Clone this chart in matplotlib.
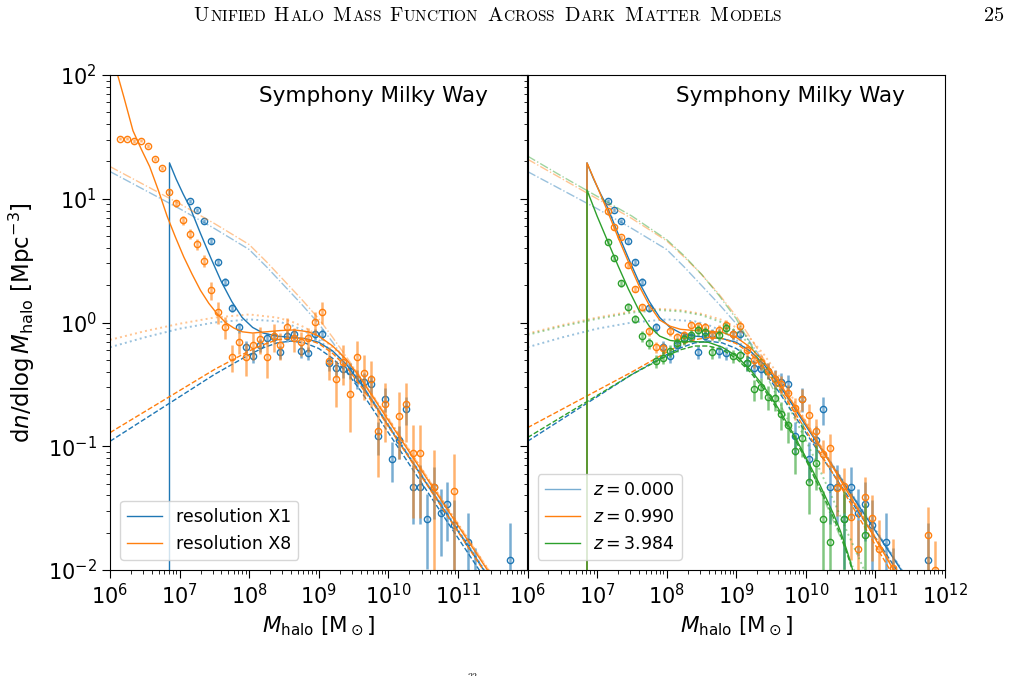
import numpy as np
import matplotlib
matplotlib.use('Agg')
import matplotlib.pyplot as plt
from matplotlib.ticker import LogLocator, NullFormatter, FixedLocator
from matplotlib.lines import Line2D

# ---------------------------------------------------------------
# Data: log10(M_halo / Msun) and log10(dn/dlogM)
# ---------------------------------------------------------------
cut_logm = 6.855          # resolution cut-off of the fits (fit is zero below)
zero_logn = -5.0          # "zero" level of the fit below the cut-off

# ---- resolution X1, z = 0 (blue; also used in right panel) ----
x1_logm = [7.15, 7.25, 7.35, 7.45, 7.55, 7.65, 7.75, 7.85, 7.95, 8.05, 8.15, 8.25, 8.35,
           8.45, 8.55, 8.65, 8.75, 8.85, 8.95, 9.05, 9.15, 9.25, 9.35, 9.45, 9.55, 9.65,
           9.75, 9.85, 9.95, 10.05, 10.15, 10.25, 10.35, 10.45, 10.55, 10.65, 10.75,
           10.85, 10.95, 11.15, 11.25, 11.75]
x1_logn = [0.984, 0.907, 0.82, 0.659, 0.486, 0.327, 0.12, -0.04, -0.20, -0.27, -0.18,
           -0.128, -0.114, -0.24, -0.109, -0.095, -0.23, -0.249, -0.095, -0.095, -0.33,
           -0.37, -0.378, -0.389, -0.454, -0.481, -0.494, -0.915, -0.618, -1.10, -0.95,
           -0.70, -1.33, -1.33, -1.59, -1.327, -1.537, -1.467, -1.64, -1.77, -2.05, -1.92]
x1_err = [0.04, 0.04, 0.04, 0.05, 0.06, 0.07, 0.08, 0.09, 0.12, 0.13, 0.12, 0.10, 0.10,
          0.12, 0.10, 0.10, 0.12, 0.12, 0.10, 0.10, 0.13, 0.15, 0.15, 0.15, 0.17, 0.18,
          0.18, 0.30, 0.22, 0.35, 0.30, 0.25, 0.50, 0.50, 0.60, 0.45, 0.55, 0.50, 0.60,
          0.70, 0.70, 0.98]

x1_tot_logm = [cut_logm, cut_logm, 6.95, 7.05, 7.15, 7.3, 7.45, 7.6, 7.75, 7.9, 8.05, 8.2,
               8.4, 8.6, 8.8, 9.0, 9.2, 9.4, 9.6, 9.8, 10.0, 10.2, 10.4, 10.6, 10.8, 11.0,
               11.2, 11.4]
x1_tot_logn = [zero_logn, 1.29, 1.16, 1.04, 0.93, 0.72, 0.52, 0.33, 0.17, 0.04, -0.04,
               -0.085, -0.11, -0.12, -0.13, -0.16, -0.23, -0.34, -0.49, -0.66, -0.835,
               -1.005, -1.175, -1.345, -1.515, -1.685, -1.855, -2.025]
x1_hump_logm = [6.0, 6.5, 7.0, 7.5, 8.0, 8.2, 8.4, 8.6, 8.8, 9.0, 9.2, 9.4, 9.6, 9.8, 10.0,
                10.2, 10.4, 10.6, 10.8, 11.0, 11.2, 11.4]
x1_hump_logn = [-0.96, -0.78, -0.6, -0.42, -0.26, -0.205, -0.165, -0.15, -0.165, -0.21,
                -0.29, -0.40, -0.55, -0.72, -0.89, -1.06, -1.23, -1.40, -1.57, -1.74,
                -1.91, -2.08]
x1_dot_logm = [6.0, 6.5, 7.0, 7.5, 8.0, 8.4, 8.6, 8.8, 9.0, 9.2, 9.4, 9.6, 9.8, 10.0, 10.4,
               10.8, 11.2, 11.45]
x1_dot_logn = [-0.2, -0.12, -0.05, 0.0, 0.025, 0.01, -0.02, -0.07, -0.14, -0.24, -0.36,
               -0.5, -0.65, -0.825, -1.165, -1.505, -1.845, -2.06]
x1_dd_logm = [6.0, 6.5, 7.0, 7.5, 8.0, 8.25, 8.5, 8.75, 9.0, 9.2, 9.4, 9.6, 9.8, 10.0, 10.4,
              10.8, 11.2, 11.45]
x1_dd_logn = [1.22, 1.07, 0.92, 0.76, 0.59, 0.45, 0.30, 0.15, -0.01, -0.16, -0.32, -0.48,
              -0.65, -0.825, -1.165, -1.505, -1.845, -2.06]

# ---- resolution X8, z = 0 (orange, left panel) ----
x8_logm = [6.15, 6.25, 6.35, 6.45, 6.55, 6.65, 6.75, 6.85, 6.95, 7.05, 7.15, 7.25, 7.35,
           7.45, 7.55, 7.65, 7.75, 7.85, 7.95, 8.05, 8.15, 8.25, 8.35, 8.45, 8.55, 8.65,
           8.75, 8.85, 8.95, 9.05, 9.15, 9.25, 9.35, 9.45, 9.55, 9.65, 9.75, 9.85, 9.95,
           10.15, 10.25, 10.35, 10.45, 10.65, 10.95]
x8_logn = [1.485, 1.485, 1.467, 1.469, 1.426, 1.321, 1.248, 1.057, 0.963, 0.826, 0.715,
           0.634, 0.50, 0.263, 0.087, -0.034, -0.276, -0.155, -0.276, -0.18, -0.133,
           -0.276, -0.109, -0.18, -0.039, -0.128, -0.16, -0.128, 0.002, 0.087, -0.31,
           -0.457, -0.316, -0.58, -0.28, -0.405, -0.457, -0.88, -0.661, -0.755, -0.661,
           -1.057, -1.057, -1.33, -1.36]
x8_err = [0.03, 0.03, 0.03, 0.03, 0.03, 0.03, 0.04, 0.05, 0.06, 0.08, 0.09, 0.10, 0.12,
          0.17, 0.20, 0.20, 0.25, 0.20, 0.30, 0.25, 0.25, 0.33, 0.26, 0.25, 0.20, 0.22,
          0.22, 0.22, 0.20, 0.20, 0.30, 0.40, 0.35, 0.50, 0.35, 0.40, 0.40, 0.57, 0.50,
          0.55, 0.50, 0.70, 0.70, 0.98, 0.98]

x8_tot_logm = [5.9, 6.0, 6.1, 6.2, 6.33, 6.45, 6.57, 6.7, 6.82, 6.94, 7.06, 7.18, 7.3, 7.42,
               7.54, 7.66, 7.78, 7.9, 8.05, 8.25, 8.45, 8.65, 8.85, 9.0, 9.2, 9.4, 9.6, 9.8,
               10.0, 10.2, 10.4, 10.6, 10.8, 11.0, 11.2, 11.4, 11.5]
x8_tot_logn = [2.42, 2.22, 2.02, 1.82, 1.55, 1.40, 1.26, 1.06, 0.86, 0.69, 0.53, 0.39, 0.26,
               0.155, 0.07, 0.0, -0.045, -0.075, -0.085, -0.075, -0.065, -0.06, -0.075,
               -0.11, -0.19, -0.3, -0.45, -0.62, -0.79, -0.96, -1.13, -1.3, -1.47, -1.64,
               -1.81, -1.98, -2.065]
x8_hump_logm = [6.0, 6.5, 7.0, 7.5, 8.0, 8.2, 8.4, 8.6, 8.8, 9.0, 9.2, 9.4, 9.6, 9.8, 10.0,
                10.2, 10.4, 10.6, 10.8, 11.0, 11.2, 11.4, 11.5]
x8_hump_logn = [-0.89, -0.72, -0.55, -0.38, -0.23, -0.18, -0.14, -0.125, -0.13, -0.17,
                -0.25, -0.36, -0.51, -0.67, -0.84, -1.01, -1.18, -1.35, -1.52, -1.69,
                -1.86, -2.03, -2.115]
x8_dot_logm = [6.0, 6.5, 7.0, 7.5, 8.0, 8.4, 8.6, 8.8, 9.0, 9.2, 9.4, 9.6, 9.8, 10.0, 10.4,
               10.8, 11.2, 11.5]
x8_dot_logn = [-0.14, -0.07, -0.01, 0.04, 0.065, 0.04, 0.01, -0.04, -0.11, -0.2, -0.31,
               -0.45, -0.61, -0.775, -1.115, -1.455, -1.795, -2.05]
x8_dd_logm = [6.0, 6.5, 7.0, 7.5, 8.0, 8.25, 8.5, 8.75, 9.0, 9.2, 9.4, 9.6, 9.8, 10.0, 10.4,
              10.8, 11.2, 11.5]
x8_dd_logn = [1.26, 1.11, 0.96, 0.80, 0.63, 0.49, 0.34, 0.19, 0.03, -0.12, -0.28, -0.44,
              -0.61, -0.775, -1.115, -1.455, -1.795, -2.05]

# ---- z = 0.990 (orange, right panel) ----
z099_logm = [7.15, 7.25, 7.35, 7.45, 7.55, 7.65, 7.75, 7.85, 7.95, 8.05, 8.15, 8.25, 8.35,
             8.45, 8.55, 8.65, 8.75, 8.85, 8.95, 9.05, 9.15, 9.25, 9.35, 9.45, 9.55, 9.65,
             9.75, 9.85, 9.95, 10.05, 10.15, 10.25, 10.35, 10.45, 10.55, 10.65, 10.75,
             10.85, 10.95, 11.05, 11.25, 11.75, 11.85]
z099_logn = [0.903, 0.769, 0.688, 0.465, 0.27, 0.123, -0.07, -0.2, -0.21, -0.07, -0.12,
             -0.10, -0.02, -0.03, -0.04, -0.10, -0.06, -0.02, -0.09, -0.03, -0.22, -0.30,
             -0.316, -0.389, -0.457, -0.50, -0.573, -0.688, -0.62, -0.747, -0.877, -1.063,
             -1.017, -1.34, -1.32, -1.57, -1.83, -1.407, -1.582, -1.83, -1.98, -1.72, -2.0]
z099_err = [0.04, 0.04, 0.05, 0.05, 0.06, 0.07, 0.08, 0.10, 0.10, 0.08, 0.08, 0.08, 0.08,
            0.08, 0.08, 0.09, 0.09, 0.09, 0.10, 0.10, 0.12, 0.14, 0.14, 0.15, 0.16, 0.17,
            0.18, 0.20, 0.20, 0.22, 0.25, 0.30, 0.30, 0.40, 0.40, 0.55, 0.70, 0.45, 0.55,
            0.70, 0.70, 0.70, 0.70]

z099_tot_logm = [cut_logm, cut_logm, 7.0, 7.15, 7.3, 7.45, 7.6, 7.75, 7.9, 8.05, 8.2, 8.4,
                 8.6, 8.8, 9.0, 9.2, 9.4, 9.6, 9.8, 10.0, 10.2, 10.4, 10.6, 10.8, 11.0,
                 11.2, 11.3]
z099_tot_logn = [zero_logn, 1.29, 1.10, 0.90, 0.69, 0.49, 0.30, 0.14, 0.02, -0.03, -0.055,
                 -0.065, -0.07, -0.08, -0.12, -0.2, -0.32, -0.47, -0.64, -0.82, -1.0,
                 -1.18, -1.37, -1.56, -1.75, -1.94, -2.04]
z099_hump_logm = [6.0, 6.5, 7.0, 7.5, 8.0, 8.2, 8.4, 8.6, 8.8, 9.0, 9.2, 9.4, 9.6, 9.8,
                  10.0, 10.2, 10.4, 10.6, 10.8, 11.0, 11.2, 11.3]
z099_hump_logn = [-0.85, -0.7, -0.55, -0.4, -0.24, -0.18, -0.14, -0.12, -0.13, -0.17,
                  -0.25, -0.37, -0.52, -0.69, -0.87, -1.05, -1.23, -1.42, -1.61, -1.80,
                  -1.99, -2.09]
z099_dot_logm = [6.0, 6.5, 7.0, 7.5, 7.9, 8.2, 8.5, 8.8, 9.0, 9.2, 9.4, 9.6, 9.8, 10.0,
                 10.4, 10.8, 11.2, 11.3]
z099_dot_logn = [-0.09, -0.02, 0.04, 0.09, 0.11, 0.10, 0.07, 0.02, -0.04, -0.13, -0.26,
                 -0.42, -0.6, -0.8, -1.17, -1.545, -1.925, -2.02]
z099_dd_logm = [6.0, 6.5, 7.0, 7.5, 8.0, 8.25, 8.5, 8.75, 9.0, 9.2, 9.4, 9.6, 9.8, 10.0,
                10.4, 10.8, 11.2, 11.3]
z099_dd_logn = [1.32, 1.16, 1.0, 0.84, 0.66, 0.53, 0.39, 0.23, 0.05, -0.12, -0.30, -0.47,
                -0.63, -0.80, -1.17, -1.545, -1.925, -2.02]

# ---- z = 3.984 (green, right panel) ----
z398_logm = [7.15, 7.25, 7.35, 7.45, 7.55, 7.65, 7.75, 7.85, 7.95, 8.05, 8.15, 8.25, 8.35,
             8.45, 8.55, 8.65, 8.75, 8.85, 8.95, 9.05, 9.15, 9.25, 9.35, 9.45, 9.55, 9.65,
             9.75, 9.85, 9.95, 10.05, 10.15, 10.25, 10.35, 10.55, 10.85]
z398_logn = [0.653, 0.519, 0.316, 0.128, 0.03, -0.11, -0.165, -0.311, -0.283, -0.228,
             -0.163, -0.136, -0.10, -0.06, -0.08, -0.236, -0.10, -0.047, -0.27, -0.26,
             -0.33, -0.54, -0.524, -0.60, -0.61, -0.74, -0.828, -1.038, -0.93, -1.286,
             -1.133, -1.59, -1.776, -1.59, -1.717]
z398_err = [0.05, 0.05, 0.06, 0.07, 0.08, 0.10, 0.10, 0.12, 0.12, 0.11, 0.10, 0.10, 0.10,
            0.10, 0.10, 0.12, 0.10, 0.10, 0.12, 0.12, 0.14, 0.20, 0.20, 0.22, 0.22, 0.25,
            0.28, 0.35, 0.30, 0.45, 0.40, 0.70, 0.80, 0.70, 0.80]

z398_tot_logm = [cut_logm, cut_logm, 7.0, 7.15, 7.3, 7.45, 7.6, 7.75, 7.9, 8.05, 8.2, 8.4,
                 8.6, 8.8, 9.0, 9.2, 9.4, 9.6, 9.8, 10.0, 10.2, 10.4, 10.5, 10.6, 10.7]
z398_tot_logn = [zero_logn, 1.07, 0.86, 0.66, 0.46, 0.27, 0.10, -0.03, -0.11, -0.145,
                 -0.155, -0.155, -0.16, -0.2, -0.27, -0.38, -0.52, -0.69, -0.88, -1.09,
                 -1.31, -1.55, -1.69, -1.86, -2.05]
z398_hump_logm = [6.0, 6.5, 7.0, 7.5, 8.0, 8.2, 8.4, 8.6, 8.8, 9.0, 9.2, 9.4, 9.6, 9.8,
                  10.0, 10.2, 10.4, 10.5, 10.6, 10.7]
z398_hump_logn = [-0.93, -0.76, -0.59, -0.42, -0.27, -0.22, -0.19, -0.19, -0.22, -0.29,
                  -0.4, -0.54, -0.71, -0.9, -1.11, -1.34, -1.58, -1.72, -1.88, -2.06]
z398_dot_logm = [6.0, 6.5, 7.0, 7.5, 7.9, 8.2, 8.5, 8.8, 9.0, 9.2, 9.4, 9.6, 9.8, 10.0,
                 10.2, 10.4, 10.6, 10.8, 10.9]
z398_dot_logn = [-0.1, -0.03, 0.03, 0.08, 0.1, 0.09, 0.06, 0.0, -0.07, -0.18, -0.33, -0.52,
                 -0.73, -0.95, -1.19, -1.44, -1.7, -1.95, -2.08]
z398_dd_logm = [6.0, 6.5, 7.0, 7.5, 8.0, 8.25, 8.5, 8.75, 9.0, 9.2, 9.4, 9.6, 9.8, 10.0,
                10.2, 10.4, 10.6, 10.75]
z398_dd_logn = [1.345, 1.18, 1.02, 0.86, 0.67, 0.54, 0.39, 0.22, 0.03, -0.17, -0.39,
                -0.62, -0.86, -1.10, -1.35, -1.61, -1.87, -2.07]

left_labels = ['resolution X1', 'resolution X8']
right_labels = [r'$z = 0.000$', r'$z = 0.990$', r'$z = 3.984$']
panel_title = 'Symphony Milky Way'
header_words = ['Unified', 'Halo', 'Mass', 'Function', 'Across', 'Dark', 'Matter', 'Models']
page_number = '25'

C_BLUE, C_ORANGE, C_GREEN = '#1f77b4', '#ff7f0e', '#2ca02c'

# ---------------------------------------------------------------
W, H = 1011, 676
fig = plt.figure(figsize=(W / 100, H / 100), dpi=100)
L, R, T, B = 110, 945, 75, 570
MID = (L + R) / 2
ax1 = fig.add_axes([L / W, 1 - B / H, (MID - L) / W, (B - T) / H])
ax2 = fig.add_axes([MID / W, 1 - B / H, (R - MID) / W, (B - T) / H], sharey=ax1)


def p10(a):
    return 10.0 ** np.asarray(a, dtype=float)


def draw_series(ax, color, tot, hump, dot, dd, pts):
    ax.plot(p10(dot[0]), p10(dot[1]), ls=':', color=color, alpha=0.45, lw=1.4)
    ax.plot(p10(dd[0]), p10(dd[1]), ls='-.', color=color, alpha=0.45, lw=1.0)
    ax.plot(p10(hump[0]), p10(hump[1]), ls='--', color=color, lw=1.0)
    ax.plot(p10(tot[0]), p10(tot[1]), ls='-', color=color, lw=1.0)
    m, n, f = pts
    y = p10(n)
    f = np.asarray(f)
    ax.errorbar(p10(m), y, yerr=[y * f, y * f], fmt='none', ecolor=color,
                elinewidth=1.8, alpha=0.6)
    ax.plot(p10(m), y, 'o', ms=4.5, mfc='none', mec=color, mew=1.0)


x1_set = ((x1_tot_logm, x1_tot_logn), (x1_hump_logm, x1_hump_logn),
          (x1_dot_logm, x1_dot_logn), (x1_dd_logm, x1_dd_logn),
          (x1_logm, x1_logn, x1_err))

# left panel
draw_series(ax1, C_BLUE, *x1_set)
draw_series(ax1, C_ORANGE, (x8_tot_logm, x8_tot_logn), (x8_hump_logm, x8_hump_logn),
            (x8_dot_logm, x8_dot_logn), (x8_dd_logm, x8_dd_logn),
            (x8_logm, x8_logn, x8_err))

# right panel
draw_series(ax2, C_BLUE, *x1_set)
draw_series(ax2, C_ORANGE, (z099_tot_logm, z099_tot_logn), (z099_hump_logm, z099_hump_logn),
            (z099_dot_logm, z099_dot_logn), (z099_dd_logm, z099_dd_logn),
            (z099_logm, z099_logn, z099_err))
draw_series(ax2, C_GREEN, (z398_tot_logm, z398_tot_logn), (z398_hump_logm, z398_hump_logn),
            (z398_dot_logm, z398_dot_logn), (z398_dd_logm, z398_dd_logn),
            (z398_logm, z398_logn, z398_err))

FS_TICK, FS_LAB = 15, 15.5
for ax in (ax1, ax2):
    ax.set_xscale('log')
    ax.set_yscale('log')
    ax.set_xlim(1e6, 1e12)
    ax.set_ylim(1e-2, 1e2)
    ax.xaxis.set_minor_locator(LogLocator(base=10, subs=np.arange(2, 10), numticks=20))
    ax.xaxis.set_minor_formatter(NullFormatter())
    ax.yaxis.set_minor_locator(LogLocator(base=10, subs=np.arange(2, 10), numticks=20))
    ax.yaxis.set_minor_formatter(NullFormatter())
    ax.tick_params(which='major', labelsize=FS_TICK, length=5.5, pad=4)
    ax.tick_params(which='minor', length=3)
    ax.set_xlabel(r'$M_{\rm halo}$ [M$_\odot$]', fontsize=FS_LAB, labelpad=5)
    ax.text(0.905, 0.978, panel_title, transform=ax.transAxes, ha='right', va='top',
            fontsize=FS_LAB)

ax1.xaxis.set_major_locator(FixedLocator([1e6, 1e7, 1e8, 1e9, 1e10, 1e11]))
ax2.tick_params(labelleft=False)
ax1.set_ylabel(r'd$n$/dlog$\,M_{\rm halo}$ [Mpc$^{-3}$]', fontsize=16.5, labelpad=8)

# legends
lh = [Line2D([], [], color=C_BLUE, lw=1.0), Line2D([], [], color=C_ORANGE, lw=1.0)]
ax1.legend(lh, left_labels, loc='lower left', fontsize=12.5, borderaxespad=0.6)
rh = [Line2D([], [], color=C_BLUE, lw=1.0, alpha=0.6), Line2D([], [], color=C_ORANGE, lw=1.0),
      Line2D([], [], color=C_GREEN, lw=1.0)]
ax2.legend(rh, right_labels, loc='lower left', fontsize=12.5, borderaxespad=0.6)

# page header in small caps
renderer = fig.canvas.get_renderer()
big, small, gap = 14.7, 11.1, 7.5
x = 193.0
base = 21.0
for w in header_words:
    for part, size in ((w[0], big), (w[1:].upper(), small)):
        t = fig.text(x / W, 1 - base / H, r'$\mathrm{%s}$' % part, fontsize=size,
                     math_fontfamily='cm', ha='left', va='baseline')
        x += t.get_window_extent(renderer).width
    x += gap
fig.text(1004 / W, 1 - base / H, r'$\mathrm{%s}$' % page_number, fontsize=big,
         math_fontfamily='cm', ha='right', va='baseline')
fig.text(473 / W, 5 / H, r'$\mathrm{22}$', fontsize=7, math_fontfamily='cm',
         ha='center', va='top')

fig.savefig('out.png', dpi=100)
